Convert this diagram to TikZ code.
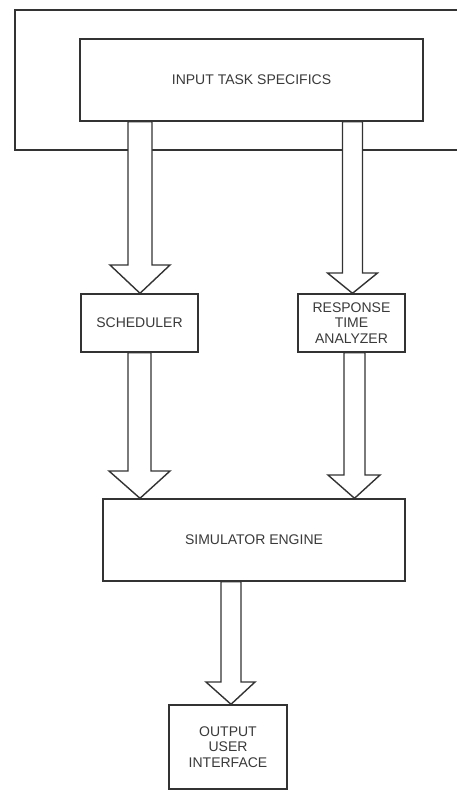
\documentclass[tikz,border=0pt]{standalone}
\usepackage{fontspec}
\setmainfont{Liberation Sans}
\usetikzlibrary{calc}
\definecolor{ln}{HTML}{333333}
\definecolor{tx}{HTML}{3A3A3A}
\tikzset{
  box/.style={draw=ln, line width=1.4pt, fill=white, rectangle, inner sep=0pt,
    align=center, text=tx, font=\fontsize{14}{15.5}\selectfont},
  barrowstyle/.style={draw=ln, line width=1.4pt, fill=white, line join=miter},
  frame/.style={draw=ln, line width=1.4pt}
}
% #1 src, #2 dst, #3 shaft left x, #4 shaft right x, #5 head left x, #6 head right x, #7 head base y, #8 tip x
\newcommand{\blockarr}[8]{%
  \draw[barrowstyle] (#1.south -| #3,0) -- (#3,#7) -- (#5,#7) -- (#2.north -| #8,0)
    -- (#6,#7) -- (#4,#7) -- (#1.south -| #4,0) -- cycle;}
\begin{document}
\begin{tikzpicture}[x=1pt,y=-1pt]
\clip (0,0) rectangle (457,792);
\useasboundingbox (0,0) rectangle (457,792);
% outer frame (open to the right)
\coordinate (fa) at (470,10);
\coordinate (fb) at (15,10);
\coordinate (fc) at (15,150);
\coordinate (fd) at (470,150);
\draw[frame] (fa) -- (fb) -- (fc) -- (fd);
\node[box, minimum width=343pt, minimum height=82pt] (in) at (251.5,80) {INPUT TASK SPECIFICS};
\node[box, minimum width=117pt, minimum height=58pt] (sch) at (139.5,323) {SCHEDULER};
\node[box, minimum width=107pt, minimum height=58pt] (rta) at (351.5,323) {RESPONSE\\TIME\\ANALYZER};
\node[box, minimum width=302pt, minimum height=82pt] (sim) at (254,540) {SIMULATOR ENGINE};
\node[box, minimum width=118pt, minimum height=84pt] (out) at (228,747) {OUTPUT\\USER\\INTERFACE};
\blockarr{in}{sch}{128}{152}{110}{170}{265}{140}
\blockarr{in}{rta}{342.5}{362.5}{327.5}{377.5}{273}{352.5}
\blockarr{sch}{sim}{128}{151}{109}{170}{471}{140}
\blockarr{rta}{sim}{344}{365}{328}{380}{475}{354.5}
\blockarr{sim}{out}{221}{241}{206}{255}{682}{231}
\end{tikzpicture}
\end{document}
